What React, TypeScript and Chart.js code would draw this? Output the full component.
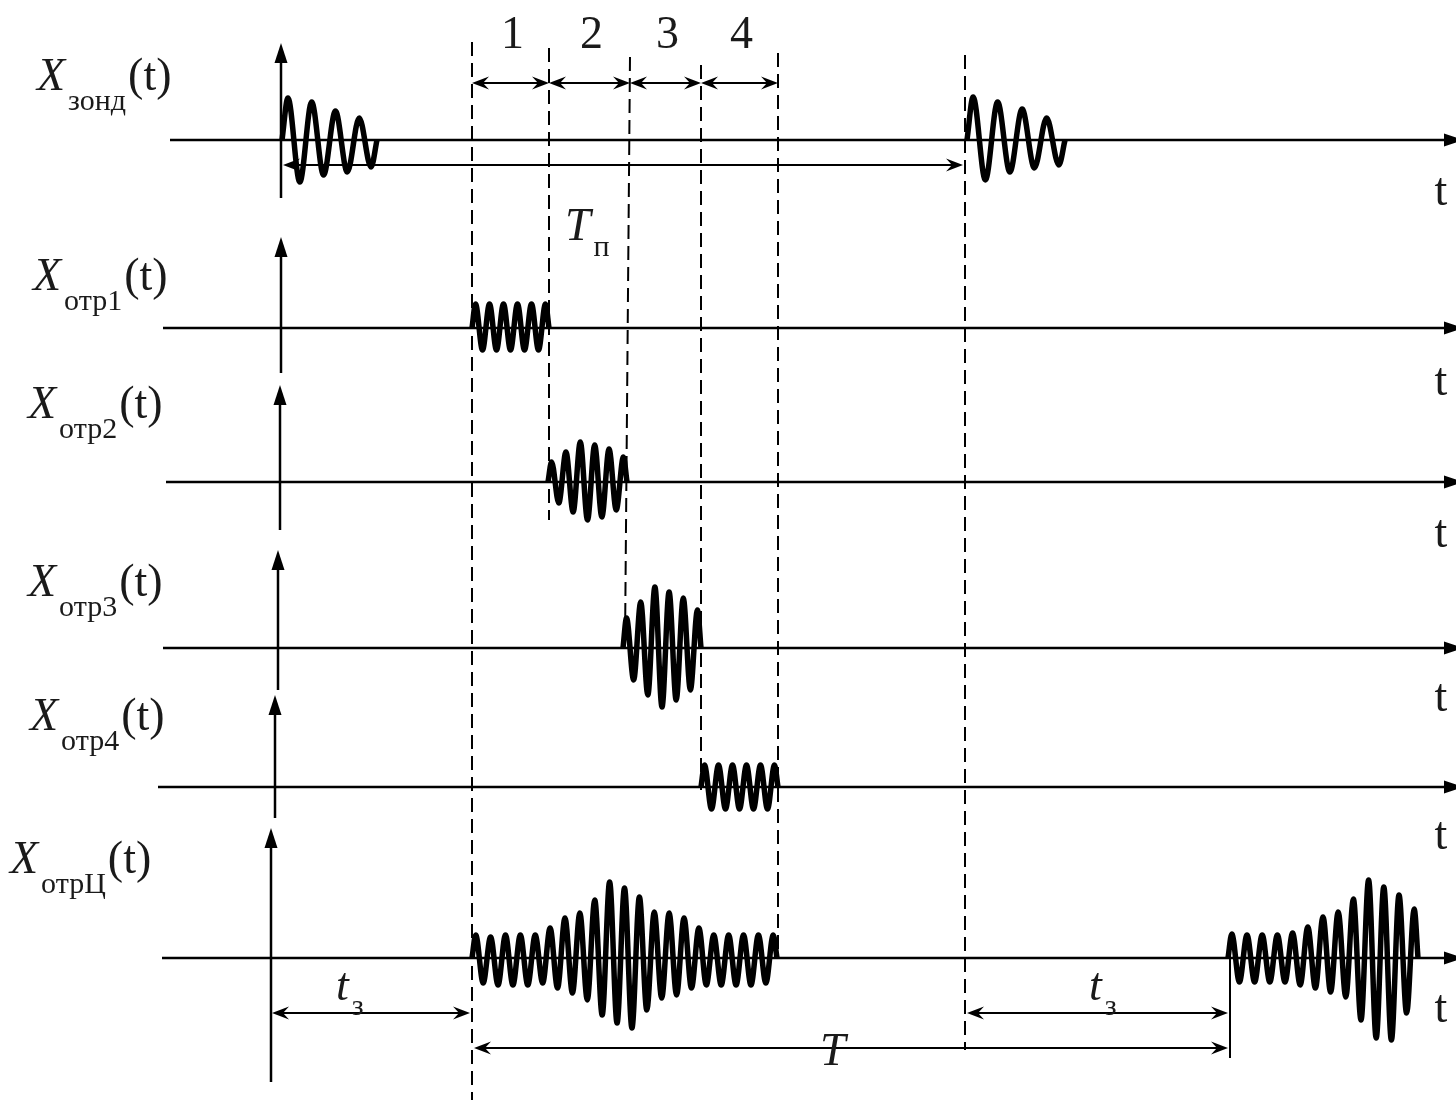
import { useEffect, useRef } from "react";
import { Chart, registerables } from "chart.js";

Chart.register(...registerables);

// ---------------- data ----------------
const rowNames = ["зонд", "отр1", "отр2", "отр3", "отр4", "отрЦ"];
const intervalLabels = ["1", "2", "3", "4"];
const markerTimes = [472, 549, 630, 701, 778];
const periodTimes = [282, 965];
const echoTimes = [472, 1228];

// extremum amplitudes of each burst (peak / trough)
const probeAmps1 = [42, -42, 38, -35, 29, -32, 22, -27];
const probeAmps2 = [43, -40, 38, -32, 31, -28, 22, -25];
const echo1Amps = [24, -22, 24, -22, 24, -22, 24, -22, 24, -22, 24];
const echo2Amps = [20, -21, 30, -30, 40, -38, 37, -35, 33, -28, 25];
const echo3Amps = [30, -32, 46, -47, 61, -59, 56, -52, 50, -42, 38];
const echo4Amps = [22, -22, 22, -22, 22, -22, 22, -22, 22, -22, 22];
const sumAmps1 = [23, -25, 21, -27, 23, -27, 23, -27, 23, -25, 30, -30, 40, -35, 45, -42, 58, -57, 76, -65, 70, -70, 61, -52, 46, -40, 45, -37, 40, -30, 30, -27, 23, -27, 23, -27, 23, -27, 23, -25, 23];
const sumAmps2 = [24, -24, 23, -24, 23, -24, 23, -24, 25, -27, 31, -30, 41, -34, 46, -39, 59, -62, 78, -80, 71, -82, 63, -55, 49];

const bursts = [
  { row: 0, start: 282, end: 377, amps: probeAmps1 },
  { row: 0, start: 967, end: 1065, amps: probeAmps2 },
  { row: 1, start: 472, end: 549, amps: echo1Amps },
  { row: 2, start: 548, end: 627, amps: echo2Amps },
  { row: 3, start: 623, end: 701, amps: echo3Amps },
  { row: 4, start: 701, end: 778, amps: echo4Amps },
  { row: 5, start: 472, end: 777, amps: sumAmps1 },
  { row: 5, start: 1228, end: 1418, amps: sumAmps2 },
];

// ---------------- layout ----------------
const rowBase = [140, 328, 482, 648, 787, 958];
const axisStart = [170, 163, 166, 163, 158, 162];
const vAxisX = [281, 281, 280, 278, 275, 271];
const vAxisTop = [43, 237, 385, 550, 695, 828];
const vAxisBottom = [198, 373, 530, 690, 818, 1082];
const labelX = [37, 33, 28, 28, 30, 10];
const labelBase = [90, 290, 418, 596, 730, 873];
const tLabelBase = [205, 395, 547, 711, 849, 1022];
const markerTop = [42, 48, 57, 65, 53];
const markerBottom = [1100, 520, 645, 790, 958];
const markerBottomT = [472, 549, 625, 701, 778];
const W = 1456;
const H = 1100;
const FONT = '"Liberation Serif", "Times New Roman", serif';
const TEXT = "#1a1a1a";

function burstPoints(b: { row: number; start: number; end: number; amps: number[] }) {
  const h = (b.end - b.start) / b.amps.length;
  const base = rowBase[b.row];
  const pts = [{ x: b.start, y: base }];
  b.amps.forEach((a, i) => pts.push({ x: b.start + (i + 0.5) * h, y: base - a }));
  pts.push({ x: b.end, y: base });
  return pts;
}

const diagramPlugin = {
  id: "diagram",
  beforeDatasetsDraw(chart: any) {
    const ctx: CanvasRenderingContext2D = chart.ctx;
    const xs = chart.scales.x;
    const ys = chart.scales.y;
    const X = (v: number) => xs.getPixelForValue(v);
    const Y = (v: number) => ys.getPixelForValue(v);
    ctx.save();
    ctx.strokeStyle = "#000";
    ctx.fillStyle = "#000";
    ctx.lineCap = "butt";

    const line = (x1: number, y1: number, x2: number, y2: number, w: number, dash: number[] = []) => {
      ctx.beginPath();
      ctx.setLineDash(dash);
      ctx.lineWidth = w;
      ctx.moveTo(X(x1), Y(y1));
      ctx.lineTo(X(x2), Y(y2));
      ctx.stroke();
      ctx.setLineDash([]);
    };
    // filled arrowhead, tip at (tx,ty) pointing in direction (dx,dy)
    const head = (tx: number, ty: number, dx: number, dy: number, len: number, hw: number, notch: number) => {
      const px = X(tx), py = Y(ty);
      const nx = -dy, ny = dx;
      ctx.beginPath();
      ctx.moveTo(px, py);
      ctx.lineTo(px - dx * len + nx * hw, py - dy * len + ny * hw);
      ctx.lineTo(px - dx * (len - notch), py - dy * (len - notch));
      ctx.lineTo(px - dx * len - nx * hw, py - dy * len - ny * hw);
      ctx.closePath();
      ctx.fill();
    };
    const dim = (x1: number, x2: number, y: number) => {
      line(x1 + 4, y, x2 - 4, y, 2.2);
      head(x1, y, -1, 0, 17, 6.5, 6);
      head(x2, y, 1, 0, 17, 6.5, 6);
    };

    // axes
    rowBase.forEach((b, i) => {
      line(axisStart[i], b, W - 10, b, 2.5);
      head(W + 8, b, 1, 0, 20, 6.5, 0);
      line(vAxisX[i], vAxisBottom[i], vAxisX[i], vAxisTop[i] + 12, 2.5);
      head(vAxisX[i], vAxisTop[i], 0, -1, 20, 6.5, 0);
    });

    // dashed timing markers
    markerTimes.forEach((t, i) => line(t, markerTop[i], markerBottomT[i], markerBottom[i], 2, [14, 7]));
    line(periodTimes[1], 55, periodTimes[1], 1050, 2, [14, 7]);
    line(echoTimes[1] + 2, rowBase[5], echoTimes[1] + 2, 1058, 2);

    // dimension arrows
    for (let i = 0; i < intervalLabels.length; i++) dim(markerTimes[i], markerTimes[i + 1], 83);
    dim(periodTimes[0] + 1, periodTimes[1] - 2, 165);
    dim(vAxisX[5] + 1, echoTimes[0] - 2, 1013);
    dim(periodTimes[1] + 2, echoTimes[1], 1013);
    dim(echoTimes[0] + 2, echoTimes[1], 1048);

    ctx.restore();
  },
  afterDatasetsDraw(chart: any) {
    const ctx: CanvasRenderingContext2D = chart.ctx;
    const xs = chart.scales.x;
    const ys = chart.scales.y;
    const X = (v: number) => xs.getPixelForValue(v);
    const Y = (v: number) => ys.getPixelForValue(v);
    ctx.save();
    ctx.fillStyle = TEXT;
    ctx.textBaseline = "alphabetic";
    ctx.textAlign = "left";
    const txt = (s: string, x: number, y: number, size: number, italic = false) => {
      ctx.font = `${italic ? "italic " : ""}${size}px ${FONT}`;
      ctx.fillText(s, X(x), Y(y));
      return ctx.measureText(s).width;
    };
    const sub = (main: string, s: string, x: number, y: number, drop: number, tail = "") => {
      const w1 = txt(main, x, y, 46, true);
      const w2 = txt(s, x + w1 + 3, y + drop, 30);
      if (tail) txt(tail, x + w1 + 3 + w2 + 2, y, 46);
    };

    rowNames.forEach((n, i) => {
      sub("X", n, labelX[i], labelBase[i], 20, "(t)");
      ctx.textAlign = "center";
      txt("t", 1441, tLabelBase[i], 46);
      ctx.textAlign = "left";
    });

    ctx.textAlign = "center";
    intervalLabels.forEach((l, i) => txt(l, (markerTimes[i] + markerTimes[i + 1]) / 2 + 2, 48, 46));
    ctx.textAlign = "left";

    sub("T", "п", 565, 240, 16);
    sub("t", "з", 336, 1000, 15);
    sub("t", "з", 1089, 1000, 15);
    txt("T", 820, 1065, 46, true);
    ctx.restore();
  },
};

export default function App() {
  const ref = useRef<HTMLCanvasElement>(null);
  useEffect(() => {
    const chart = new Chart(ref.current!, {
      type: "line",
      data: {
        datasets: bursts.map((b, i) => ({
          label: `burst${i}`,
          data: burstPoints(b),
          borderColor: "#000",
          borderWidth: 5.5,
          pointRadius: 0,
          cubicInterpolationMode: "monotone" as const,
          fill: false,
        })),
      },
      options: {
        responsive: false,
        maintainAspectRatio: false,
        animation: false,
        devicePixelRatio: 1,
        events: [],
        layout: { padding: 0 },
        plugins: { legend: { display: false }, tooltip: { enabled: false }, title: { display: false } },
        scales: {
          x: { type: "linear", min: 0, max: W, display: false },
          y: { type: "linear", min: 0, max: H, reverse: true, display: false },
        },
      },
      plugins: [diagramPlugin],
    });
    return () => chart.destroy();
  }, []);
  return (
    <div style={{ position: "absolute", left: 0, top: 0, width: W, height: H, background: "#fff" }}>
      <canvas ref={ref} width={W} height={H} style={{ display: "block", width: W, height: H }} />
    </div>
  );
}
